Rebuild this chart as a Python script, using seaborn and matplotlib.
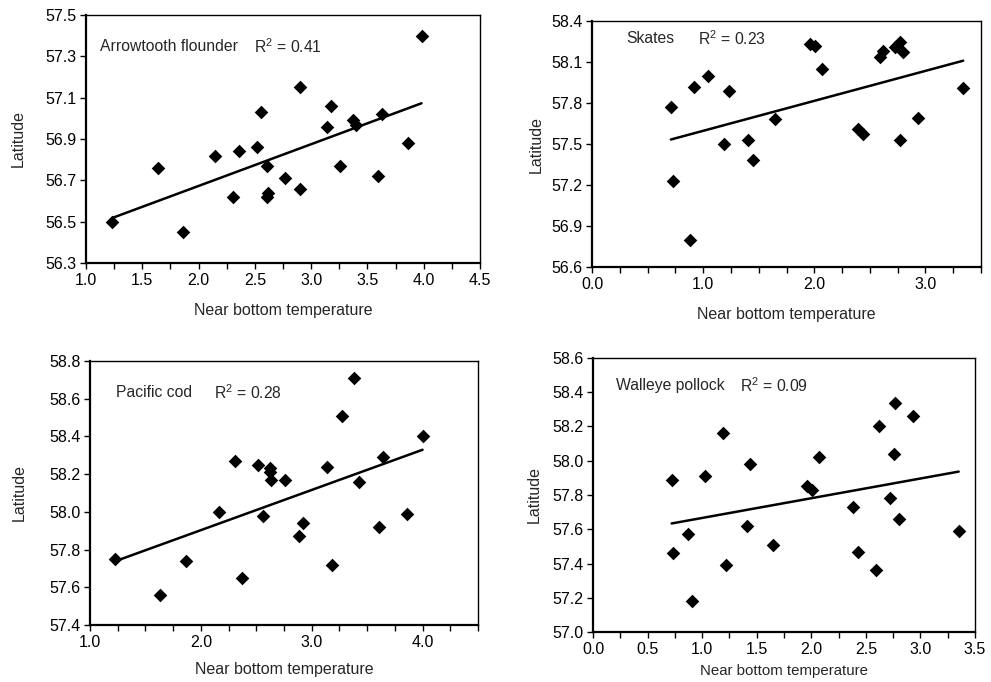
import matplotlib
matplotlib.use('Agg')
import matplotlib.pyplot as plt
import numpy as np
import seaborn as sns
from matplotlib.ticker import MultipleLocator

# Arrowtooth flounder
arrowtooth_temp = [1.23, 1.64, 1.86, 2.15, 2.31, 2.36, 2.52, 2.55, 2.61, 2.61, 2.62, 2.77,
                   2.90, 2.90, 3.14, 3.18, 3.26, 3.37, 3.40, 3.59, 3.63, 3.86, 3.98]
arrowtooth_lat = [56.50, 56.76, 56.45, 56.82, 56.62, 56.84, 56.86, 57.03, 56.77, 56.62, 56.64, 56.71,
                  57.15, 56.66, 56.96, 57.06, 56.77, 56.99, 56.97, 56.72, 57.02, 56.88, 57.40]

# Skates
skates_temp = [0.71, 0.73, 0.88, 0.92, 1.04, 1.19, 1.23, 1.40, 1.45, 1.65, 1.96, 2.01,
               2.07, 2.39, 2.44, 2.59, 2.62, 2.73, 2.77, 2.80, 2.77, 2.93, 3.34]
skates_lat = [57.77, 57.23, 56.80, 57.92, 58.00, 57.50, 57.89, 57.53, 57.38, 57.68, 58.23, 58.22,
              58.05, 57.61, 57.57, 58.14, 58.18, 58.21, 58.25, 58.17, 57.53, 57.69, 57.91]

# Pacific cod
cod_temp = [1.23, 1.63, 1.87, 2.16, 2.31, 2.37, 2.52, 2.56, 2.62, 2.62, 2.63, 2.76,
            2.89, 2.92, 3.14, 3.18, 3.27, 3.38, 3.43, 3.61, 3.64, 3.86, 4.00]
cod_lat = [57.75, 57.56, 57.74, 58.00, 58.27, 57.65, 58.25, 57.98, 58.23, 58.21, 58.17, 58.17,
           57.87, 57.94, 58.24, 57.72, 58.51, 58.71, 58.16, 57.92, 58.29, 57.99, 58.40]

# Walleye pollock
pollock_temp = [0.72, 0.73, 0.87, 0.91, 1.03, 1.19, 1.22, 1.41, 1.44, 1.65, 1.96, 2.01,
                2.07, 2.38, 2.43, 2.59, 2.62, 2.72, 2.76, 2.77, 2.80, 2.93, 3.35]
pollock_lat = [57.89, 57.46, 57.57, 57.18, 57.91, 58.16, 57.39, 57.62, 57.98, 57.51, 57.85, 57.83,
               58.02, 57.73, 57.47, 57.36, 58.20, 57.78, 58.04, 58.34, 57.66, 58.26, 57.59]

species = ['Arrowtooth flounder', 'Skates', 'Pacific cod', 'Walleye pollock']
r2_labels = ['0.41', '0.23', '0.28', '0.09']

sns.set_style('ticks')
plt.rcParams['font.family'] = ['Liberation Sans', 'DejaVu Sans']
plt.rcParams['mathtext.fontset'] = 'custom'
plt.rcParams['mathtext.rm'] = 'Liberation Sans'

fig = plt.figure(figsize=(9.91, 6.82), dpi=100)

# axes boxes in figure fractions
boxes = [
    [0.0868, 0.6144, 0.3976, 0.3636],
    [0.5974, 0.6085, 0.3925, 0.3607],
    [0.0908, 0.0836, 0.3915, 0.3871],
    [0.5984, 0.0733, 0.3855, 0.4018],
]
xdata = [arrowtooth_temp, skates_temp, cod_temp, pollock_temp]
ydata = [arrowtooth_lat, skates_lat, cod_lat, pollock_lat]
xlims = [(1.0, 4.5), (0.0, 3.5), (1.0, 4.5), (0.0, 3.5)]
xmajor = [0.5, 1.0, 1.0, 0.5]
ylims = [(56.3, 57.5), (56.6, 58.4), (57.4, 58.8), (57.0, 58.6)]
ystep = [0.2, 0.3, 0.2, 0.2]
text_pos = [(0.036, 0.871, 0.426), (0.087, 0.927, 0.272),
            (0.067, 0.879, 0.320), (0.060, 0.898, 0.385)]
xlabel_pad = [11, 11, 9, 5]
xlabel_size = [11.5, 11.5, 11.5, 10.8]
ylabel_pad = [14, 5, 16, 7]

for i in range(4):
    ax = fig.add_axes(boxes[i])
    sns.regplot(x=np.array(xdata[i]), y=np.array(ydata[i]), ax=ax, ci=None, marker='D',
                scatter_kws=dict(s=48, color='black', alpha=1, linewidths=0, zorder=3),
                line_kws=dict(color='black', lw=1.8))
    ax.set_xlim(*xlims[i])
    ax.set_ylim(*ylims[i])
    ax.xaxis.set_major_locator(MultipleLocator(xmajor[i]))
    ax.xaxis.set_minor_locator(MultipleLocator(0.25))
    ax.set_yticks(np.round(np.arange(ylims[i][0], ylims[i][1] + 1e-6, ystep[i]), 1))
    ax.xaxis.set_major_formatter(plt.FormatStrFormatter('%.1f'))
    ax.yaxis.set_major_formatter(plt.FormatStrFormatter('%.1f'))
    ax.tick_params(axis='both', which='both', direction='out', length=4, width=1,
                   labelsize=11.5, color='black', labelcolor='black', pad=3)
    for side in ['left', 'bottom']:
        ax.spines[side].set_linewidth(1.6)
    for side in ['top', 'right']:
        ax.spines[side].set_linewidth(1.0)
    for sp in ax.spines.values():
        sp.set_color('black')
    ax.set_xlabel('Near bottom temperature', fontsize=xlabel_size[i], labelpad=xlabel_pad[i])
    ax.set_ylabel('Latitude', fontsize=11.5, labelpad=ylabel_pad[i])
    tx, ty, rx = text_pos[i]
    ax.text(tx, ty, species[i], transform=ax.transAxes, ha='left', va='center', fontsize=11.3)
    ax.text(rx, ty, 'R$^2$ = ' + r2_labels[i], transform=ax.transAxes, ha='left',
            va='center', fontsize=11.3)

fig.savefig('out.png', dpi=100, facecolor='white')
